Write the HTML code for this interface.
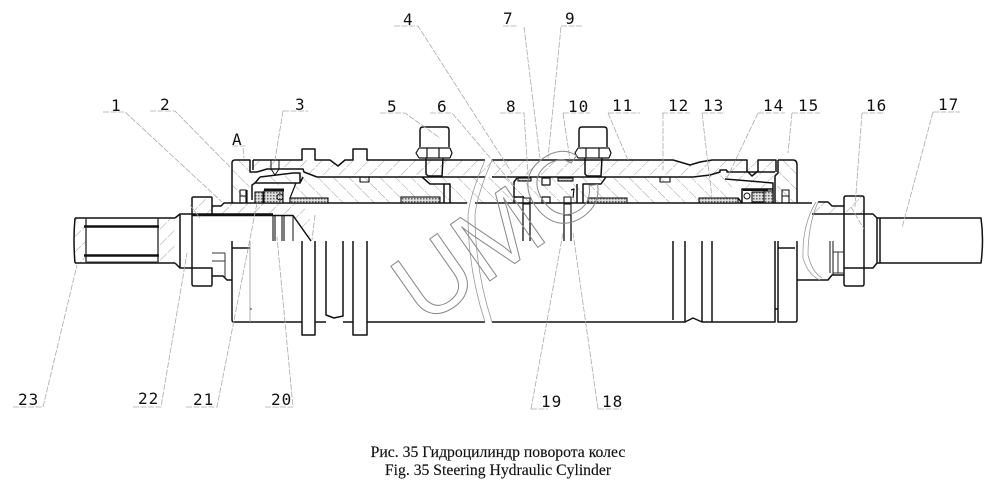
<!DOCTYPE html>
<html>
<head>
<meta charset="utf-8">
<style>
html,body{margin:0;padding:0;background:#fff;width:1000px;height:489px;overflow:hidden}
svg{display:block}
.o{fill:none;stroke:#111;stroke-width:1.5;stroke-linejoin:round}
.t{fill:none;stroke:#333;stroke-width:1}
.g{fill:none;stroke:#999;stroke-width:.8}
.h{fill:url(#hatch);stroke:none}
.h2{fill:url(#hatch2);stroke:none}
.s{fill:url(#dots);stroke:#111;stroke-width:1.1}
.l{fill:none;stroke:#aaa;stroke-width:.8;stroke-dasharray:6 1.5}
.n{font-family:"DejaVu Sans Mono","Liberation Mono",monospace;font-size:16px;fill:#111;letter-spacing:1px}
.c{font-family:"Liberation Serif","Noto Serif CJK SC",serif;font-size:15.700px;fill:#111;text-anchor:middle;stroke:#111;stroke-width:.15}
.w{font-family:"Liberation Sans",sans-serif;font-size:100px;fill:none;stroke:#888;stroke-width:1}
</style>
</head>
<body>
<svg xmlns="http://www.w3.org/2000/svg" width="1000" height="489" viewBox="0 0 1000 489">
<defs>
<pattern id="hatch" width="11" height="11" patternUnits="userSpaceOnUse" patternTransform="rotate(45)"><line x1="0" y1="0" x2="0" y2="11" stroke="#888" stroke-width=".8" stroke-dasharray="5 1.500"/></pattern>
<pattern id="hatch2" width="11" height="11" patternUnits="userSpaceOnUse" patternTransform="rotate(-45)"><line x1="0" y1="0" x2="0" y2="11" stroke="#888" stroke-width=".8" stroke-dasharray="5 1.500"/></pattern>
<pattern id="dots" width="3" height="3" patternUnits="userSpaceOnUse"><rect width="3" height="3" fill="#ddd"/><rect width="1.500" height="1.500" fill="#666"/></pattern>
</defs>
<rect width="1000" height="489" fill="#fff"/>

<!-- hatch fills -->
<path class="h" d="M253 161H302V160H330L338 166L345 160H673L680 162L690 165L700 162L712 160H776V172H727V177H693L680 177H317L304 172L303 169H293L267 169L257 172H253Z"/>
<path class="h2" d="M317 177H693L710 175L720 172H727V178L738 198V203H300L290 190L260 177L293 173L303 173Z"/>
<path class="h2" d="M232 160H250V172L253 175V183L247 190V203H232Z"/>
<path class="h" d="M212 206L223 203H300L310 215L310 240L293 215H212Z"/>
<path class="h" d="M192 197H212V214H192Z"/>
<path class="h" d="M75 218H175V263H158V218H86V263H75Z"/>
<path class="h" d="M727 172H776V183L773 189H742Z"/>
<path class="h2" d="M778 160H797V203H775V190L783 175H778Z"/>
<path class="h" d="M818 202H828L832 206H844V214H812Z"/>
<path class="h" d="M846 197H864V214H846Z"/>

<!-- left end -->
<path class="o" d="M75 218H175M75 263H175M75 218Q73 240 75 263M175 218L180 214H192M175 263L180 268H192M180 214V268"/>
<path class="t" style="stroke-width:1.400px" d="M158 218V263M86 218V263"/>
<path class="o" style="stroke-width:2.400px" d="M84 226.500H159M84 255.500H159"/>
<path class="t" d="M86 262H158"/>
<path class="o" d="M192 198Q192 197 194 197H211Q212 197 212 198V214M192 198V284Q192 286 194 286H211Q212 286 212 284V268H192"/>
<path class="o" d="M212 206H221L224 203H467M475 203H812"/>
<path class="o" d="M192 214H273M192 215.500H293L311 241"/>
<path class="t" d="M212 253H225M212 261H225M225 253V277"/>
<path class="o" d="M212 276H223L227 280H232M232 248H250"/>
<path class="o" d="M232 241V320Q232 322 234 322H302"/>
<path class="g" d="M250 241V322"/>
<path class="t" d="M250 309H252"/>
<path class="o" style="stroke-width:1.100px" d="M273 215V241M275 215V241M282 215V241M284 215V241"/>
<path class="o" style="stroke-width:1px" d="M293 215V241"/>

<!-- left cap -->
<path class="o" d="M232 203V163Q232 160 235 160H250V172H257L267 169H293L303 169L304 172L317 177H485"/>
<path class="o" d="M253 160V170M253 160H302V149H315V160H330L338 166L345 160H353V149H367V160H485M492 160H673L680 162L690 165L700 162L712 160H747V171L752 176L758 171V160H776V172M727 170V172H775M492 177H693L710 175L720 172V170H727"/>
<path class="o" d="M303 177L300 183H255L252 185V200M260 177L293 173L300 173V183M255 183L260 177"/>
<path class="o" style="stroke-width:1.200px" d="M296 183L290 198V203M247 190V203"/>
<path class="o" style="stroke-width:1px" d="M271 160V169L275 175L279 169V160"/>
<rect class="o" style="stroke-width:1.100px" x="240" y="190" width="6" height="6"/>
<rect class="o" style="stroke-width:1.100px" x="240" y="196" width="6" height="7"/>
<rect class="s" x="255" y="192" width="8" height="11"/>
<rect class="s" x="264" y="191" width="19" height="12"/>
<rect x="264" y="188.500" width="20" height="3" fill="#111"/>
<circle class="o" style="stroke-width:1px" cx="280" cy="197" r="3"/>
<rect class="s" x="290" y="198" width="38" height="5"/>
<rect class="s" x="401" y="197" width="39" height="6"/>
<rect class="o" style="stroke-width:1.100px" x="360" y="177" width="9" height="5"/>

<!-- fittings -->
<path class="o" d="M420 147V130Q420 127 423 127H446Q449 127 449 130V147"/>
<path class="o" style="stroke-width:1.200px" d="M419 148H450M419 158H450M427 148V158M439 148V158M419 148L416 153L419 158M450 148L452 153L450 158"/>
<path class="o" d="M426 158V174L428 176H442L443 158"/>
<path class="o" d="M422 177L430 184H450V203M444 184V203"/>
<path class="o" d="M579 147V130Q579 127 582 127H604Q607 127 607 130V147"/>
<path class="o" style="stroke-width:1.200px" d="M578 148H609M578 158H609M586 148V158M599 148V158M578 148L575 153L578 158M609 148L611 153L609 158"/>
<path class="o" d="M585 158V174L587 176H601L602 158"/>
<path class="o" d="M606 177L601 184H583V203M577 184V203"/>

<!-- middle seals -->
<path class="o" d="M514 203V182L517 178M514 197H524"/>
<rect class="s" x="518" y="178" width="13" height="3"/>
<rect class="s" x="558" y="178" width="15" height="3"/>
<rect class="o" style="stroke-width:1.200px" x="542" y="178" width="8" height="7"/>
<rect class="o" style="stroke-width:1.200px" x="542" y="197" width="8" height="6"/>
<rect class="o" style="stroke-width:1.100px" x="523" y="198" width="7" height="6"/>
<rect class="o" style="stroke-width:1.100px" x="564" y="197" width="7" height="6"/>
<rect class="o" style="stroke-width:1.100px" x="564" y="204" width="7" height="11"/>
<path class="o" style="stroke-width:1.200px" d="M571 190L574 189L573 198"/>
<path class="o" style="stroke-width:1.300px" d="M523 204V241M530 204V241M564 215V241M571 215V241"/>
<rect class="s" x="588" y="198" width="39" height="5"/>
<rect class="o" style="stroke-width:1.100px" x="660" y="177" width="10" height="5"/>

<!-- right cap -->
<rect class="s" x="699" y="198" width="39" height="5"/>
<path class="o" d="M725 179L773 183V203M742 203V189H773M738 198L742 203"/>
<rect x="743" y="188.500" width="25" height="2.500" fill="#111"/>
<rect class="s" x="764" y="191" width="9" height="12"/>
<rect class="s" x="752" y="192" width="12" height="10"/>
<circle class="o" style="stroke-width:1px" cx="747" cy="196" r="3"/>
<path class="o" d="M778 160V173L775 176V203M778 160H793Q797 160 797 165V203"/>
<rect class="o" style="stroke-width:1.100px" x="782" y="190" width="7" height="6"/>
<rect class="o" style="stroke-width:1.100px" x="782" y="196" width="7" height="7"/>

<!-- rod middle -->
<path class="o" d="M302 241V335H315V241M326 241V315L334 318L343 316V241M353 241V335H367V241M315 322H326M343 322H353M367 322H485M492 322H685V241M673 241V320"/>
<path class="o" d="M685 322L693 318L702 322V241M712 241V322H775V241M702 322H712M778 241V322H795Q797 322 797 320V241M778 248H795M775 309H778"/>

<!-- right end -->
<path class="o" d="M797 280H828L832 275H844M846 196Q844 196 844 198V284Q844 286 846 286H862Q864 286 864 284V198Q864 196 862 196H846M844 268H864"/>
<path class="o" d="M812 214H873L877 218V263L873 268H864"/>
<path class="o" d="M818 202H828L832 206H844"/>
<path class="o" d="M877 218H880V263H877M880 218H981Q984 240 981 263H880"/>
<path class="o" style="stroke-width:1px" d="M830 241V273M833 241V275M844 241V276"/>
<path class="t" d="M833 252H844M833 273H844M838 252V273"/>

<!-- break curves -->
<path class="g" d="M485 160Q470 195 468 215Q468 270 485 322M492 160Q477 195 475 215Q475 270 492 322"/>
<path class="g" d="M816 202Q802 225 803 258Q808 275 820 280M818 202Q808 225 808 255Q812 272 822 278"/>

<!-- leaders -->
<path class="l" d="M103 112H125L222 202"/>
<path class="l" d="M150 111H175L230 167"/>
<path class="l" d="M283 111H308M283 111L275 160"/>
<path class="l" d="M232 146H247M243 148L244 158"/>
<path class="l" d="M394 26H418L512 173"/>
<path class="l" d="M503 26H517M524 27L540 158"/>
<path class="l" d="M561 26H583M561 27L548 158"/>
<path class="l" d="M380 113H405L440 138"/>
<path class="l" d="M430 113H452L515 187"/>
<path class="l" d="M500 113H524L528 175"/>
<path class="l" d="M563 113H590M563 113L570 160"/>
<path class="l" d="M608 113H640M608 113L628 160"/>
<path class="l" d="M662 113H690M663 113V170"/>
<path class="l" d="M702 113H725M702 113L712 198"/>
<path class="l" d="M758 113H785M758 113L727 178"/>
<path class="l" d="M792 113H820M792 113L788 153"/>
<path class="l" d="M862 113H885M862 113L855 207"/>
<path class="l" d="M933 112H960M933 112L902 228"/>
<path class="l" d="M13 407H43L77 265"/>
<path class="l" d="M133 407H161L187 253"/>
<path class="l" d="M186 407H217L257 203"/>
<path class="l" d="M265 407H293L277 237"/>
<path class="l" d="M531 409H548M531 409L563 233"/>
<path class="l" d="M598 409H622M598 409L573 233"/>
<path class="l" d="M851 207L864 229M190 205L200 218M315 215L312 240"/>

<!-- labels -->
<text class="n" x="111" y="111">1</text>
<text class="n" x="160" y="110">2</text>
<text class="n" x="295" y="110">3</text>
<text class="n" x="403" y="25">4</text>
<text class="n" x="387" y="112">5</text>
<text class="n" x="437" y="112">6</text>
<text class="n" x="503" y="24">7</text>
<text class="n" x="565" y="24">9</text>
<text class="n" x="506" y="112">8</text>
<text class="n" x="568" y="112">10</text>
<text class="n" x="612" y="111">11</text>
<text class="n" x="668" y="111">12</text>
<text class="n" x="703" y="111">13</text>
<text class="n" x="763" y="111">14</text>
<text class="n" x="798" y="111">15</text>
<text class="n" x="866" y="111">16</text>
<text class="n" x="938" y="110">17</text>
<text class="n" x="232" y="145">A</text>
<text class="n" x="18" y="405">23</text>
<text class="n" x="138" y="404">22</text>
<text class="n" x="193" y="405">21</text>
<text class="n" x="271" y="405">20</text>
<text class="n" x="541" y="407">19</text>
<text class="n" x="602" y="407">18</text>

<!-- watermark -->
<text class="w" transform="translate(424 327) rotate(-35)">UMC</text>

<!-- caption -->
<text class="c" x="498" y="457">Рис. 35 Гидроцилиндр поворота колес</text>
<text class="c" x="498" y="475">Fig. 35 Steering Hydraulic Cylinder</text>
</svg>
</body>
</html>
